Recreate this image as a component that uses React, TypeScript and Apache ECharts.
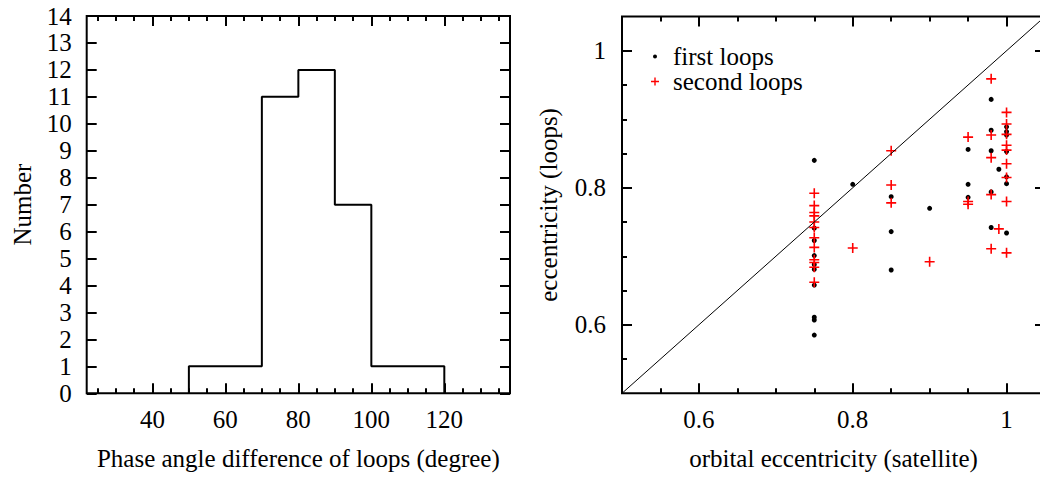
import React, { useEffect, useRef } from "react";
import * as echarts from "echarts";

// ---------- Left panel: histogram ----------
const binEdges = [50, 60, 70, 80, 90, 100, 110, 120];
const binCounts = [1, 1, 11, 12, 7, 1, 1];
const histXMajor = [40, 60, 80, 100, 120];
const histXMinor = [25, 30, 35, 45, 50, 55, 65, 70, 75, 85, 90, 95, 105, 110, 115, 125, 130, 135];
const histXRange = [22, 138];
const histYRange = [0, 14];

// ---------- Right panel: scatter ----------
const satEcc = [0.75, 0.8, 0.85, 0.9, 0.95, 0.98, 0.99, 1.0];
const firstLoopsByEcc = [
  [0.84, 0.741, 0.723, 0.701, 0.688, 0.681, 0.658, 0.611, 0.607, 0.585],
  [0.805],
  [0.787, 0.736, 0.68],
  [0.77],
  [0.856, 0.805, 0.786],
  [0.929, 0.884, 0.854, 0.794, 0.742],
  [0.827],
  [0.889, 0.882, 0.877, 0.853, 0.816, 0.806, 0.734],
];
const secondLoopsByEcc = [
  [0.792, 0.774, 0.764, 0.759, 0.75, 0.742, 0.727, 0.713, 0.695, 0.691, 0.684, 0.662],
  [0.712],
  [0.854, 0.804, 0.778],
  [0.692],
  [0.874, 0.78, 0.776],
  [0.959, 0.877, 0.844, 0.79, 0.711],
  [0.74],
  [0.91, 0.893, 0.878, 0.862, 0.855, 0.835, 0.815, 0.78, 0.705],
];
const diagonal = [0.5, 1.05];
const eccRange = [0.5, 1.05];
const eccMajor = [0.6, 0.8, 1];
const eccMinor = [0.55, 0.65, 0.7, 0.75, 0.85, 0.9, 0.95];

const FONT = "'Liberation Serif', 'Times New Roman', serif";
const FS = 25;

const CROSS = "path://M4.2,0H5.8V4.2H10V5.8H5.8V10H4.2V5.8H0V4.2H4.2Z";
const LEG_DOT =
  "path://M0,0h0.01v0.01h-0.01z M17.49,8.99h0.01v0.01h-0.01z M6.5,4.5A2,2,0,1,1,2.5,4.5A2,2,0,1,1,6.5,4.5Z";
const LEG_CROSS =
  "path://M0,0h0.01v0.01h-0.01z M17.49,8.99h0.01v0.01h-0.01z M3.8,0.5H5.2V3.8H8.5V5.2H5.2V8.5H3.8V5.2H0.5V3.8H3.8Z";

const textStyle = { fontFamily: FONT, fontSize: FS, color: "#000" };

function tickAxis(
  gridIndex: number,
  position: string,
  range: number[],
  ticks: number[],
  len: number,
  labels: number[] | null,
  labelMargin: number,
  extra: any = {}
) {
  return {
    type: "value",
    gridIndex,
    position,
    min: range[0],
    max: range[1],
    axisLine: { show: false },
    splitLine: { show: false },
    axisTick: {
      show: true,
      inside: true,
      length: len,
      customValues: ticks,
      lineStyle: { color: "#000", width: 2 },
    },
    axisLabel: labels
      ? { show: true, customValues: labels, margin: labelMargin, ...textStyle }
      : { show: false },
    ...extra,
  };
}

function buildHistOutline(): number[][] {
  const pts: number[][] = [[binEdges[0], 0]];
  for (let i = 0; i < binCounts.length; i++) {
    pts.push([binEdges[i], binCounts[i]]);
    pts.push([binEdges[i + 1], binCounts[i]]);
  }
  pts.push([binEdges[binEdges.length - 1], 0]);
  return pts;
}

function flatten(groups: number[][]): number[][] {
  const out: number[][] = [];
  groups.forEach((g, i) => g.forEach((v) => out.push([satEcc[i], v])));
  return out;
}

export default function App() {
  const ref = useRef<HTMLDivElement>(null);
  useEffect(() => {
    if (!ref.current) return;
    const chart = echarts.init(ref.current, null, { renderer: "svg" });
    const histYTicks: number[] = [];
    for (let i = histYRange[0]; i <= histYRange[1]; i++) histYTicks.push(i);

    const gridBase = {
      show: true,
      borderColor: "#000",
      borderWidth: 2,
      backgroundColor: "transparent",
      containLabel: false,
      outerBoundsMode: "none",
    };

    const option: any = {
      animation: false,
      textStyle: { fontFamily: FONT },
      grid: [
        { ...gridBase, left: 86.7, top: 16, width: 423.3, height: 377.3 },
        { ...gridBase, left: 622, top: 16.5, width: 423, height: 376.8 },
      ],
      legend: {
        orient: "vertical",
        left: 650.5,
        top: 44,
        padding: 0,
        itemGap: 0,
        itemWidth: 17.5,
        itemHeight: 9,
        selectedMode: false,
        textStyle: { ...textStyle },
        data: [
          { name: "first loops", icon: LEG_DOT },
          { name: "second loops", icon: LEG_CROSS },
        ],
      },
      xAxis: [
        tickAxis(0, "bottom", histXRange, histXMajor, 10, histXMajor, 14, {
          name: "Phase angle difference of loops (degree)",
          nameLocation: "middle",
          nameGap: 53,
          nameTextStyle: { ...textStyle },
        }),
        tickAxis(0, "bottom", histXRange, histXMinor, 5, null, 0),
        tickAxis(0, "top", histXRange, histXMajor, 10, null, 0),
        tickAxis(0, "top", histXRange, histXMinor, 5, null, 0),
        tickAxis(1, "bottom", eccRange, eccMajor, 10, eccMajor, 14, {
          name: "orbital eccentricity (satellite)",
          nameLocation: "middle",
          nameGap: 53,
          nameTextStyle: { ...textStyle },
        }),
        tickAxis(1, "bottom", eccRange, eccMinor, 5, null, 0),
        tickAxis(1, "top", eccRange, eccMajor, 10, null, 0),
        tickAxis(1, "top", eccRange, eccMinor, 5, null, 0),
      ],
      yAxis: [
        tickAxis(0, "left", histYRange, histYTicks, 10, histYTicks, 15, {
          name: "Number",
          nameLocation: "middle",
          nameGap: 52,
          nameTextStyle: { ...textStyle },
        }),
        tickAxis(0, "right", histYRange, histYTicks, 10, null, 0),
        tickAxis(1, "left", eccRange, eccMajor, 10, eccMajor, 16, {
          name: "eccentricity (loops)",
          nameLocation: "middle",
          nameGap: 61,
          nameTextStyle: { ...textStyle },
        }),
        tickAxis(1, "left", eccRange, eccMinor, 5, null, 0),
        tickAxis(1, "right", eccRange, eccMajor, 10, null, 0),
        tickAxis(1, "right", eccRange, eccMinor, 5, null, 0),
      ],
      series: [
        {
          type: "line",
          xAxisIndex: 0,
          yAxisIndex: 0,
          data: buildHistOutline(),
          symbol: "none",
          lineStyle: { color: "#000", width: 2 },
          silent: true,
        },
        {
          type: "line",
          xAxisIndex: 4,
          yAxisIndex: 2,
          data: [
            [diagonal[0], diagonal[0]],
            [diagonal[1], diagonal[1]],
          ],
          symbol: "none",
          lineStyle: { color: "#000", width: 1 },
          silent: true,
        },
        {
          name: "first loops",
          type: "scatter",
          xAxisIndex: 4,
          yAxisIndex: 2,
          data: flatten(firstLoopsByEcc),
          symbol: "circle",
          symbolSize: 5,
          itemStyle: { color: "#000", opacity: 1 },
        },
        {
          name: "second loops",
          type: "scatter",
          xAxisIndex: 4,
          yAxisIndex: 2,
          data: flatten(secondLoopsByEcc),
          symbol: CROSS,
          symbolSize: 10,
          itemStyle: { color: "#ff0000", opacity: 1 },
        },
      ],
    };
    chart.setOption(option);
    return () => chart.dispose();
  }, []);
  return (
    <div
      ref={ref}
      style={{ position: "absolute", left: 0, top: 0, width: 1040, height: 479, background: "#fff" }}
    />
  );
}
